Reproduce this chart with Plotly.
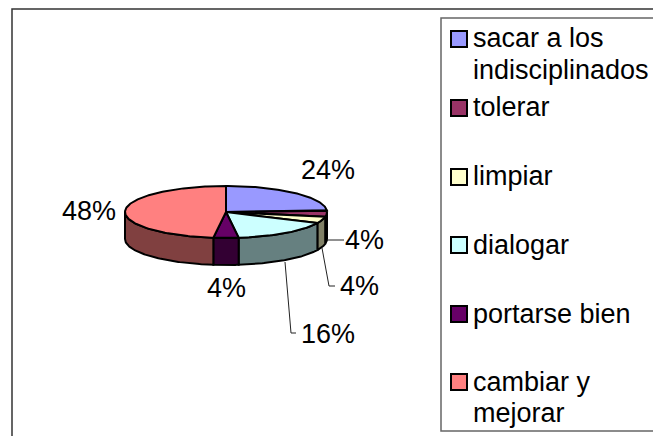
import math
import plotly.graph_objects as go

categories = ["sacar a los<br>indisciplinados", "tolerar", "limpiar", "dialogar", "portarse bien", "cambiar y<br>mejorar"]
values = [24, 4, 4, 16, 4, 48]
top_colors = ["#9999FF", "#993366", "#FFFFCC", "#CCFFFF", "#660066", "#FF8080"]
side_colors = ["#4D4D80", "#4D1A33", "#808066", "#668080", "#330033", "#804040"]
value_labels = ["24%", "4%", "4%", "16%", "4%", "48%"]

W, H = 653, 436
cx, cy, rx, ry, depth = 226, 212, 101, 26, 27


def pt(deg, drop=0):
    a = math.radians(deg)
    return cx + rx * math.sin(a), cy - ry * math.cos(a) + drop


def arc(a0, a1, drop=0):
    n = max(2, int(abs(a1 - a0)) + 2)
    return [pt(a0 + (a1 - a0) * i / (n - 1), drop) for i in range(n)]


fig = go.Figure()

# turn the shares into start/end angles, clockwise from 12 o'clock
angles = []
total = 0
for v in values:
    angles.append((total * 3.6, (total + v) * 3.6))
    total += v

# side walls: only the front half of the ellipse shows
for (a0, a1), col in zip(angles, side_colors):
    s0, s1 = max(a0, 90), min(a1, 270)
    if s1 <= s0:
        continue
    poly = arc(s0, s1) + arc(s1, s0, depth)
    poly.append(poly[0])
    fig.add_trace(go.Scatter(x=[p[0] for p in poly], y=[p[1] for p in poly], mode="lines",
                             fill="toself", fillcolor=col, line=dict(color="black", width=2),
                             hoverinfo="skip", showlegend=False))

# top faces
for (a0, a1), col in zip(angles, top_colors):
    poly = [(cx, cy)] + arc(a0, a1) + [(cx, cy)]
    fig.add_trace(go.Scatter(x=[p[0] for p in poly], y=[p[1] for p in poly], mode="lines",
                             fill="toself", fillcolor=col, line=dict(color="black", width=2),
                             hoverinfo="skip", showlegend=False))

# leader lines
leaders = [
    ([327, 344], [240, 240]),
    ([322, 329, 335], [248, 286, 286]),
    ([285, 291, 296], [262, 333, 333]),
]
for lx, ly in leaders:
    fig.add_trace(go.Scatter(x=lx, y=ly, mode="lines", line=dict(color="#222222", width=1),
                             hoverinfo="skip", showlegend=False))

FONT = dict(family="Liberation Sans, Arial", size=27, color="black")
label_pos = [(328, 170), (364, 240), (359, 286), (328, 334), (226, 288), (89, 211)]
annotations = []
for txt, (lx, ly) in zip(value_labels, label_pos):
    annotations.append(dict(x=lx, y=ly, text=txt, showarrow=False, font=FONT, xref="x", yref="y"))

# legend drawn by hand, its rows are not evenly packed in the original
legend_y = [39, 108, 177, 245, 314, 382]
text_y = [[38, 70], [107], [176], [245], [314], [382, 413]]
shapes = [
    dict(type="rect", x0=12, y0=9, x1=660, y1=440, line=dict(color="#333333", width=1.5)),
    dict(type="rect", x0=441, y0=18, x1=660, y1=431, line=dict(color="#666666", width=1.5)),
]
for name, col, sy, rows in zip(categories, top_colors, legend_y, text_y):
    shapes.append(dict(type="rect", x0=451, x1=467, y0=sy - 8, y1=sy + 8, fillcolor=col,
                       line=dict(color="black", width=2)))
    for part, ty in zip(name.split("<br>"), rows):
        annotations.append(dict(x=473, y=ty, text=part, showarrow=False, font=FONT, xref="x", yref="y",
                                xanchor="left", xshift=-2))

fig.update_layout(
    width=W, height=H, margin=dict(l=0, r=0, t=0, b=0, pad=0),
    paper_bgcolor="white", plot_bgcolor="white",
    xaxis=dict(range=[0, W], visible=False, fixedrange=True),
    yaxis=dict(range=[H, 0], visible=False, fixedrange=True),
    shapes=shapes, annotations=annotations, showlegend=False,
)
fig.write_html("out.html", config=dict(displayModeBar=False),
               post_script="document.body.style.margin='0';document.documentElement.style.overflow='hidden';")
